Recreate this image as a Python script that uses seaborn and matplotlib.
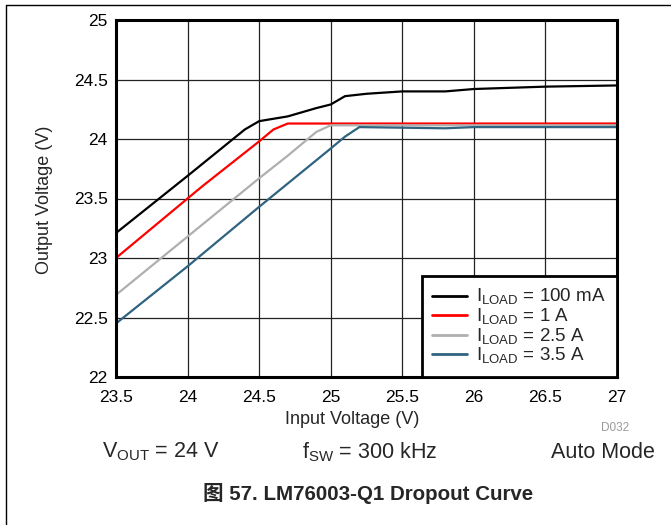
import matplotlib
matplotlib.use("Agg")
import matplotlib.pyplot as plt
import seaborn as sns
import pandas as pd
from matplotlib.lines import Line2D

# ---- data ----
black_x = [23.5, 24.0, 24.4, 24.5, 24.7, 24.9, 25.0, 25.1, 25.25, 25.5, 25.8, 26.0, 26.5, 27.0]
black_y = [23.21, 23.69, 24.08, 24.15, 24.19, 24.26, 24.29, 24.36, 24.38, 24.40, 24.40, 24.42, 24.44, 24.45]
red_x = [23.5, 24.0, 24.1, 24.5, 24.6, 24.7, 25.0, 26.0, 27.0]
red_y = [23.00, 23.50, 23.60, 23.98, 24.08, 24.13, 24.13, 24.13, 24.13]
gray_x = [23.5, 24.0, 24.5, 24.7, 24.9, 25.0, 26.0, 27.0]
gray_y = [22.69, 23.18, 23.67, 23.86, 24.06, 24.115, 24.115, 24.115]
blue_x = [23.5, 24.0, 24.5, 25.0, 25.1, 25.2, 25.8, 26.0, 27.0]
blue_y = [22.45, 22.93, 23.43, 23.92, 24.02, 24.10, 24.09, 24.10, 24.10]

labels = [r"I$_{\mathregular{LOAD}}$ = 100 mA", r"I$_{\mathregular{LOAD}}$ = 1 A",
          r"I$_{\mathregular{LOAD}}$ = 2.5 A", r"I$_{\mathregular{LOAD}}$ = 3.5 A"]
colors = ["#000000", "#FF0000", "#AFAFAF", "#2F6380"]
x_ticks = [23.5, 24, 24.5, 25, 25.5, 26, 26.5, 27]
x_tick_labels = ["23.5", "24", "24.5", "25", "25.5", "26", "26.5", "27"]
y_ticks = [22, 22.5, 23, 23.5, 24, 24.5, 25]
y_tick_labels = ["22", "22.5", "23", "23.5", "24", "24.5", "25"]

rows = []
for lab, xs, ys in zip(labels, [black_x, red_x, gray_x, blue_x], [black_y, red_y, gray_y, blue_y]):
    for a, b in zip(xs, ys):
        rows.append({"Input": a, "Output": b, "Load": lab})
df = pd.DataFrame(rows)

sns.set_style("white")
plt.rcParams["font.family"] = ["Liberation Sans", "Noto Sans CJK SC", "DejaVu Sans"]
plt.rcParams["mathtext.fontset"] = "custom"
plt.rcParams["mathtext.rm"] = "Liberation Sans"

fig = plt.figure(figsize=(6.71, 5.25), dpi=100)
ax = fig.add_axes([116/671, 1-377/525, (617-116)/671, (377-20)/525])

sns.lineplot(data=df, x="Input", y="Output", hue="Load", hue_order=labels,
             palette=colors, estimator=None, sort=True, linewidth=1.6, ax=ax)

ax.set_xlim(23.5, 27)
ax.set_ylim(22, 25)
ax.set_xticks(x_ticks)
ax.set_xticklabels(x_tick_labels)
ax.set_yticks(y_ticks)
ax.set_yticklabels(y_tick_labels)
ax.tick_params(length=0, labelsize=12.5, colors="black")
ax.tick_params(axis="x", pad=9)
ax.tick_params(axis="y", pad=6)
ax.grid(True, color="#222222", linewidth=0.9)
ax.set_axisbelow(True)
for s in ax.spines.values():
    s.set_visible(True)
    s.set_color("black")
    s.set_linewidth(2.2)

ax.set_xlabel("")
ax.set_ylabel("")
fig.text(45/671, 1-200/525, "Output Voltage (V)", fontsize=13, rotation=90, ha="center", va="center")
fig.text(352/671, 1-419/525, "Input Voltage (V)", fontsize=13, ha="center", va="center")

leg = ax.legend(loc="lower right", bbox_to_anchor=(1, 0), borderaxespad=0,
                fontsize=13.5, frameon=True, fancybox=False, handlelength=1.85,
                handletextpad=0.5, labelspacing=-0.04, borderpad=0.58)
leg.get_frame().set_edgecolor("black")
leg.get_frame().set_linewidth(2)
leg.get_frame().set_alpha(1)
for h in leg.get_lines():
    h.set_linewidth(2)

fig.text(615/671, 1-428/525, "D032", fontsize=8.5, color="#9A9A9A", ha="center", va="center")
fig.text(161/671, 1-452/525, r"V$_{\mathregular{OUT}}$ = 24 V", fontsize=15.5, ha="center", va="center")
fig.text(370/671, 1-452/525, r"f$_{\mathregular{SW}}$ = 300 kHz", fontsize=15.5, ha="center", va="center")
fig.text(655/671, 1-452/525, "Auto Mode", fontsize=15.5, ha="right", va="center")
fig.text(368/671, 1-493/525, "图 57. LM76003-Q1 Dropout Curve", fontsize=14.8, fontweight="bold",
         ha="center", va="center")

# page border lines
fig.add_artist(Line2D([6/671, 1], [1-5/525, 1-5/525], transform=fig.transFigure, color="black", linewidth=1))
fig.add_artist(Line2D([6/671, 6/671], [0, 1-5/525], transform=fig.transFigure, color="black", linewidth=1))

fig.savefig("out.png", dpi=100)
